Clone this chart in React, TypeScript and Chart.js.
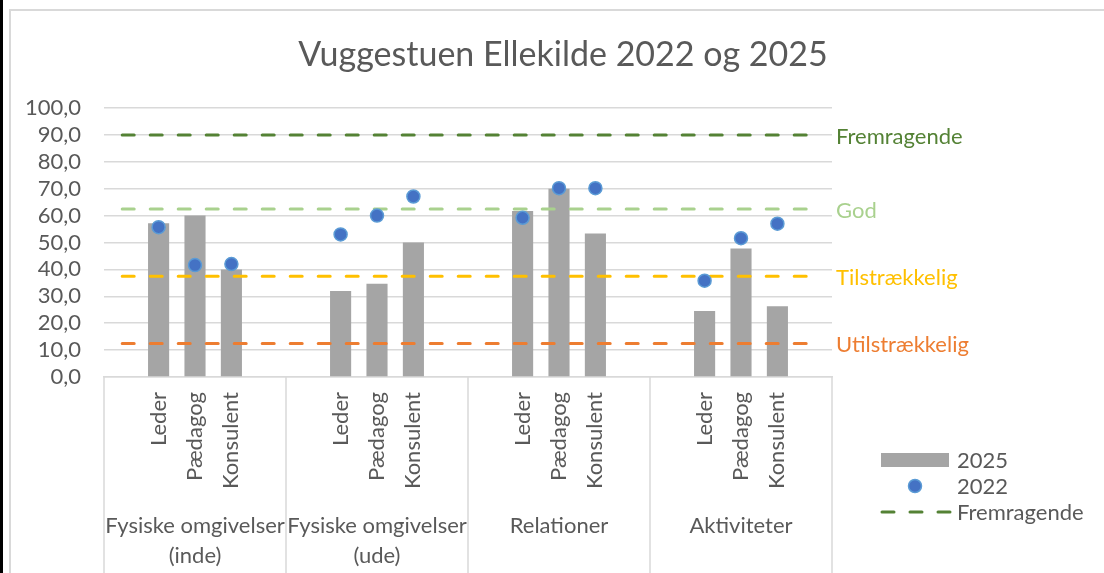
import React, { useEffect, useRef } from "react";
import { Chart, registerables } from "chart.js";

Chart.register(...registerables);

const title = "Vuggestuen Ellekilde 2022 og 2025";
const groupLabels: string[][] = [
  ["Fysiske omgivelser", "(inde)"],
  ["Fysiske omgivelser", "(ude)"],
  ["Relationer"],
  ["Aktiviteter"],
];
const roles = ["Leder", "Pædagog", "Konsulent"];
const values2025 = [57.2, 60.0, 40.0, 32.0, 34.7, 50.0, 61.7, 70.0, 53.3, 24.5, 47.8, 26.3];
const values2022 = [55.7, 41.6, 42.0, 53.0, 60.0, 67.1, 59.2, 70.2, 70.2, 35.8, 51.6, 57.0];
const levelNames = ["Fremragende", "God", "Tilstrækkelig", "Utilstrækkelig"];
const levelValues = [90, 62.5, 37.5, 12.5];
const levelColors = ["#548235", "#A9D18E", "#FFC000", "#ED7D31"];
const yTicks = [0, 10, 20, 30, 40, 50, 60, 70, 80, 90, 100];

const FONT = "Lato, 'Open Sans', sans-serif";
const TEXT = "#595959";
const GRID = "#D9D9D9";
const FS = 22;

// build 20 slots: empty, 3 roles, empty per group
const labels: string[] = [];
groupLabels.forEach(() => {
  labels.push("", ...roles, "");
});
const slotIndex = (g: number, r: number) => g * 5 + 1 + r;
const bars: (number | null)[] = labels.map(() => null);
const points: (number | null)[] = labels.map(() => null);
groupLabels.forEach((_, g) => {
  roles.forEach((_, r) => {
    bars[slotIndex(g, r)] = values2025[g * 3 + r];
    points[slotIndex(g, r)] = values2022[g * 3 + r];
  });
});

const decor = {
  id: "decor",
  beforeDraw(chart: any) {
    const ctx = chart.ctx;
    ctx.save();
    ctx.fillStyle = "#ffffff";
    ctx.fillRect(0, 0, chart.width, chart.height);
    ctx.fillStyle = "#000000";
    ctx.fillRect(0, 0, 3, chart.height);
    ctx.strokeStyle = GRID;
    ctx.lineWidth = 2;
    ctx.beginPath();
    ctx.moveTo(10, chart.height);
    ctx.lineTo(10, 10);
    ctx.lineTo(chart.width, 10);
    ctx.stroke();
    ctx.restore();
  },
  afterDraw(chart: any) {
    const ctx = chart.ctx;
    const x = chart.scales.x;
    const y = chart.scales.y;
    const area = chart.chartArea;
    const slot = x.getPixelForValue(1) - x.getPixelForValue(0);
    ctx.save();
    // title
    ctx.fillStyle = TEXT;
    ctx.font = `34px ${FONT}`;
    ctx.textAlign = "center";
    ctx.textBaseline = "middle";
    ctx.fillText(title, 563, 55);

    // group separators
    ctx.strokeStyle = GRID;
    ctx.lineWidth = 1.5;
    const bounds: number[] = [];
    groupLabels.forEach((_, g) => bounds.push(x.getPixelForValue(g * 5) - slot / 2));
    bounds.push(area.right);
    bounds.forEach((bx) => {
      ctx.beginPath();
      ctx.moveTo(bx, area.bottom);
      ctx.lineTo(bx, chart.height);
      ctx.stroke();
    });

    // sub labels (rotated)
    ctx.fillStyle = TEXT;
    ctx.font = `${FS}px ${FONT}`;
    labels.forEach((lab, i) => {
      if (!lab) return;
      const px = x.getPixelForValue(i);
      ctx.save();
      ctx.translate(px, area.bottom + 15);
      ctx.rotate(-Math.PI / 2);
      ctx.textAlign = "right";
      ctx.textBaseline = "middle";
      ctx.fillText(lab, 0, 0);
      ctx.restore();
    });

    // group labels
    ctx.textAlign = "center";
    ctx.textBaseline = "middle";
    groupLabels.forEach((lines, g) => {
      const cx = (bounds[g] + bounds[g + 1]) / 2;
      lines.forEach((ln, k) => ctx.fillText(ln, cx, 526 + k * 30));
    });

    // level labels on the right
    ctx.textAlign = "left";
    levelNames.forEach((nm, i) => {
      ctx.fillStyle = levelColors[i];
      ctx.fillText(nm, area.right + 4, y.getPixelForValue(levelValues[i]) + 2);
    });

    // legend
    ctx.fillStyle = "#A5A5A5";
    ctx.fillRect(881, 453, 68, 14);
    ctx.fillStyle = TEXT;
    ctx.fillText("2025", 957, 461);
    ctx.beginPath();
    ctx.arc(915, 486, 6.5, 0, Math.PI * 2);
    ctx.fillStyle = "#4472C4";
    ctx.fill();
    ctx.strokeStyle = "#5B9BD5";
    ctx.lineWidth = 1.5;
    ctx.stroke();
    ctx.fillStyle = TEXT;
    ctx.fillText("2022", 957, 487);
    ctx.strokeStyle = levelColors[0];
    ctx.lineWidth = 3;
    ctx.lineCap = "round";
    ctx.setLineDash([12, 16]);
    ctx.beginPath();
    ctx.moveTo(882, 512);
    ctx.lineTo(951, 512);
    ctx.stroke();
    ctx.setLineDash([]);
    ctx.fillStyle = TEXT;
    ctx.fillText(levelNames[0], 957, 513);
    ctx.restore();
  },
};

export default function App() {
  const ref = useRef<HTMLCanvasElement | null>(null);
  useEffect(() => {
    if (!ref.current) return;
    const lineSets = levelNames.map((nm, i) => ({
      type: "line" as const,
      label: nm,
      data: labels.map(() => levelValues[i]),
      borderColor: levelColors[i],
      borderWidth: 3,
      borderDash: [12, 16],
      borderCapStyle: "round" as const,
      pointRadius: 0,
      fill: false,
      order: 2,
    }));
    const chart = new Chart(ref.current, {
      type: "bar",
      data: {
        labels,
        datasets: [
          {
            type: "bar",
            label: "2025",
            data: bars,
            backgroundColor: "#A5A5A5",
            categoryPercentage: 1,
            barPercentage: 0.58,
            order: 3,
          },
          ...lineSets,
          {
            type: "line",
            label: "2022",
            data: points,
            showLine: false,
            pointRadius: 6.5,
            pointBackgroundColor: "#4472C4",
            pointBorderColor: "#5B9BD5",
            pointBorderWidth: 1.5,
            order: 1,
          },
        ] as any,
      },
      options: {
        responsive: false,
        animation: false,
        layout: { padding: { top: 108, right: 272, left: 0, bottom: 0 } },
        plugins: {
          legend: { display: false },
          title: { display: false },
          tooltip: { enabled: false },
        },
        scales: {
          x: {
            offset: true,
            grid: { display: false },
            border: { display: true, color: GRID, width: 1.5 },
            ticks: { display: false },
            afterFit: (s: any) => {
              s.height = 196;
            },
          },
          y: {
            min: 0,
            max: 100,
            afterBuildTicks: (s: any) => {
              s.ticks = yTicks.map((v) => ({ value: v }));
            },
            grid: { color: GRID, lineWidth: 1.5, drawTicks: false },
            border: { display: false },
            ticks: {
              autoSkip: false,
              color: TEXT,
              font: { family: FONT, size: FS },
              padding: 23,
              callback: (v: any) => Number(v).toFixed(1).replace(".", ","),
            },
            afterFit: (s: any) => {
              s.width = 104;
            },
          },
        },
      },
      plugins: [decor],
    });
    return () => chart.destroy();
  }, []);
  return (
    <canvas
      ref={ref}
      width={1104}
      height={573}
      style={{ position: "absolute", left: 0, top: 0, width: 1104, height: 573 }}
    />
  );
}
